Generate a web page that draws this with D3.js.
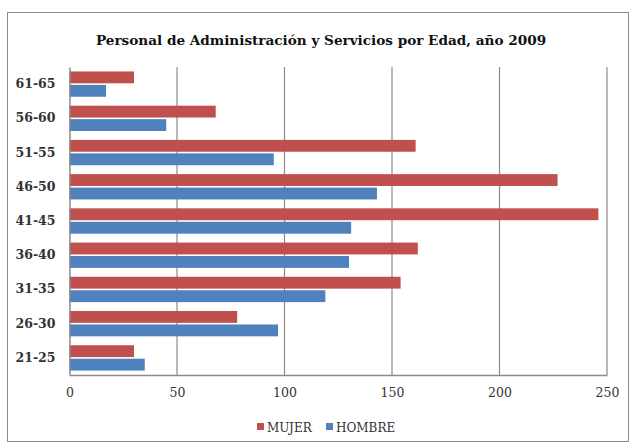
<!DOCTYPE html>
<html><head><meta charset="utf-8">
<script src="https://cdn.jsdelivr.net/npm/d3@7"></script>
<style>body{margin:0;background:#fff;}svg{display:block;}</style>
</head><body>
<script>
const categories = ["61-65","56-60","51-55","46-50","41-45","36-40","31-35","26-30","21-25"];
const mujer  = [30, 68, 161, 227, 246, 162, 154, 78, 30];
const hombre = [17, 45, 95, 143, 131, 130, 119, 97, 35];
const xTicks = [0, 50, 100, 150, 200, 250];
const seriesNames = ["MUJER", "HOMBRE"];
const colors = ["#C0504D", "#4F81BD"];

const W = 631, H = 443;
const svg = d3.select("body").append("svg").attr("width", W).attr("height", H);
const font = "'DejaVu Serif', 'Liberation Serif', serif";

svg.append("rect").attr("x", 7.5).attr("y", 12.5).attr("width", 621).attr("height", 429)
  .attr("fill", "#fff").attr("stroke", "#8c8c8c").attr("stroke-width", 1);

svg.append("text").attr("x", 321).attr("y", 45).attr("text-anchor", "middle")
  .attr("font-family", font).attr("font-weight", "bold").attr("font-size", 13.6).attr("fill", "#111")
  .text("Personal de Administración y Servicios por Edad, año 2009");

const x = d3.scaleLinear().domain([0, 250]).range([69.5, 607]);
const y = d3.scaleBand().domain(categories).range([67, 375]).paddingInner(0.26).paddingOuter(0.13);
const sub = d3.scaleBand().domain(seriesNames).range([0, y.bandwidth()]).paddingInner(0.12);

// grid
svg.append("g").selectAll("line").data(xTicks.slice(1)).join("line")
  .attr("x1", d => x(d)).attr("x2", d => x(d)).attr("y1", 67).attr("y2", 375)
  .attr("stroke", "#8a8a8a").attr("stroke-width", 1.2);

const data = [mujer, hombre];
seriesNames.forEach((s, si) => {
  svg.append("g").selectAll("rect").data(categories).join("rect")
    .attr("x", x(0)).attr("y", (c) => y(c) + sub(s))
    .attr("width", (c, i) => x(data[si][i]) - x(0)).attr("height", sub.bandwidth())
    .attr("fill", colors[si]);
});

// axes
const yAxis = svg.append("g").attr("transform", `translate(${x(0)},0)`)
  .call(d3.axisLeft(y).tickSize(0).tickPadding(14));
yAxis.select(".domain").attr("stroke", "#8a8a8a").attr("stroke-width", 1.5);
yAxis.selectAll("text").attr("font-family", font).attr("font-size", 12.5).attr("font-weight", "bold").attr("fill", "#333");

const xAxis = svg.append("g").attr("transform", `translate(0,375)`)
  .call(d3.axisBottom(x).tickValues(xTicks).tickSize(0).tickPadding(13).tickSizeOuter(0));
xAxis.select(".domain").attr("stroke", "#8a8a8a").attr("stroke-width", 1.5);
xAxis.selectAll("text").attr("font-family", font).attr("font-size", 12.5).attr("fill", "#333");

// legend
const leg = [{x: 257, name: seriesNames[0], c: colors[0]}, {x: 326, name: seriesNames[1], c: colors[1]}];
const lg = svg.append("g");
lg.selectAll("rect").data(leg).join("rect").attr("x", d => d.x).attr("y", 423).attr("width", 7).attr("height", 7).attr("fill", d => d.c);
lg.selectAll("text").data(leg).join("text").attr("x", d => d.x + 10).attr("y", 432)
  .attr("font-family", font).attr("font-size", 12).attr("fill", "#333").text(d => d.name);
</script>
</body></html>
